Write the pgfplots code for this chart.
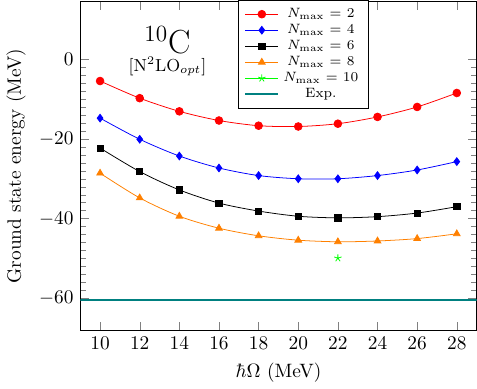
\documentclass[border=0pt]{standalone}
\usepackage{pgfplots}
\pgfplotsset{compat=1.18}
\begin{document}
\begin{tikzpicture}
\begin{axis}[
    scale only axis,
    width=205pt,
    height=170pt,
    xmin=9, xmax=29,
    ymin=-68, ymax=14.4,
    xtick={10,12,...,28},
    ytick={-60,-40,-20,0},
    minor y tick num=9,
    xlabel={$\hbar\Omega$ (MeV)},
    ylabel={Ground state energy (MeV)},
    legend style={at={(0.5625,1.005)}, anchor=north, font=\scriptsize,
        cells={anchor=center}, row sep=-2pt},
    every axis plot/.append style={smooth},
]
\addplot[red, mark=*] coordinates {
    (10,-5.5) (12,-9.8) (14,-13.1) (16,-15.4) (18,-16.7)
    (20,-16.9) (22,-16.2) (24,-14.5) (26,-12.0) (28,-8.5)
};
\addlegendentry{$N_{\max}$ = 2}
\addplot[blue, mark=diamond*] coordinates {
    (10,-14.8) (12,-20.1) (14,-24.3) (16,-27.3) (18,-29.2)
    (20,-30.0) (22,-30.0) (24,-29.2) (26,-27.8) (28,-25.7)
};
\addlegendentry{$N_{\max}$ = 4}
\addplot[black, mark=square*, mark size=1.6pt] coordinates {
    (10,-22.3) (12,-28.2) (14,-32.8) (16,-36.1) (18,-38.1)
    (20,-39.4) (22,-39.8) (24,-39.5) (26,-38.6) (28,-37.0)
};
\addlegendentry{$N_{\max}$ = 6}
\addplot[orange, mark=triangle*] coordinates {
    (10,-28.6) (12,-34.8) (14,-39.4) (16,-42.4) (18,-44.3)
    (20,-45.4) (22,-45.8) (24,-45.6) (26,-45.0) (28,-43.8)
};
\addlegendentry{$N_{\max}$ = 8}
\addplot[green, mark=star] coordinates {
    (22,-49.9)
};
\addlegendentry{$N_{\max}$ = 10}
\addplot[teal, very thick, sharp plot] coordinates {
    (9,-60.32) (29,-60.32)
};
\addlegendentry{Exp.}
\node at (axis cs:13.4,4.8) {\LARGE $^{10}$C};
\node at (axis cs:13.4,-1.9) {\small [N$^2$LO$_{opt}$]};
\end{axis}
\end{tikzpicture}
\end{document}
